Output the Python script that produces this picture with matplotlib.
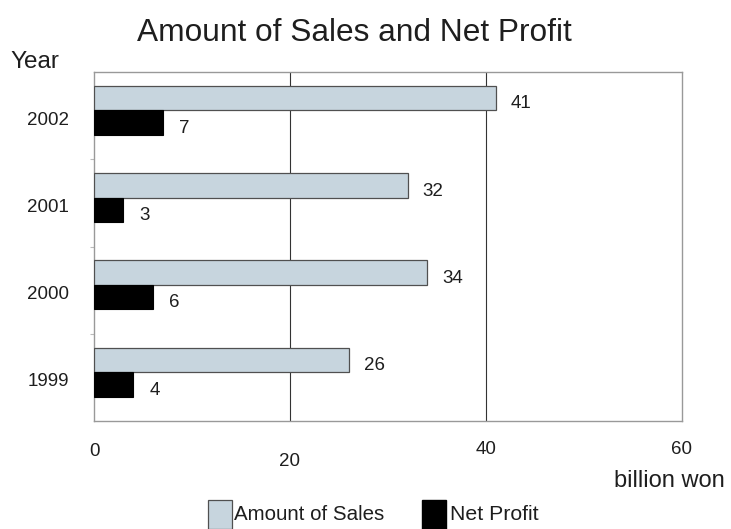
import matplotlib
matplotlib.use("Agg")
import matplotlib.pyplot as plt
from matplotlib.patches import Rectangle
import matplotlib.transforms as mtransforms

years = ["1999", "2000", "2001", "2002"]
sales = [26, 34, 32, 41]
profit = [4, 6, 3, 7]
xticks = [0, 20, 40, 60]

FONT = ["Liberation Sans", "DejaVu Sans"]
plt.rcParams["font.family"] = FONT

SALES_C = "#c7d5de"
TXT = "#1e1e1e"
fig = plt.figure(figsize=(7.31, 5.29), dpi=100)
ax = fig.add_axes([94/731, 1-421/529, (682-94)/731, (421-72)/529])

h = 0.28
shift = 0.06
ypos = list(range(len(years)))
ax.barh([y + shift + h/2 for y in ypos], sales, height=h, color=SALES_C, edgecolor="#505050", linewidth=0.9, zorder=3)
ax.barh([y + shift - h/2 for y in ypos], profit, height=h, color="black", edgecolor="black", linewidth=0.8, zorder=3)

for y, s, p in zip(ypos, sales, profit):
    ax.text(s + 2.6, y + shift + h/2 - 0.065, str(s), ha="center", va="center", fontsize=13.5, color=TXT)
    ax.text(p + 2.2, y + shift - h/2 - 0.065, str(p), ha="center", va="center", fontsize=13.5, color=TXT)

ax.set_xlim(0, 60)
ax.set_ylim(-0.5, 3.5)
for xv in [20, 40]:
    ax.axvline(xv, color="#333333", linewidth=0.8, zorder=1)
for sp in ax.spines.values():
    sp.set_color("#999999")
    sp.set_linewidth(1.0)

ax.set_yticks([y - 0.03 for y in ypos])
ax.set_yticklabels(years, fontsize=13.5, color=TXT)
ax.tick_params(axis="y", length=0, pad=18)
ax.set_yticks([0.5, 1.5, 2.5], minor=True)
ax.tick_params(axis="y", which="minor", length=3, color="#bbbbbb", width=0.8)

ax.set_xticks([])
trans = mtransforms.blended_transform_factory(ax.transData, fig.transFigure)
offsets = [1-451/529, 1-462/529, 1-449/529, 1-449/529]
for xv, yf in zip(xticks, offsets):
    ax.text(xv, yf, str(xv), transform=trans, ha="center", va="center", fontsize=13.5, color=TXT)

fig.text(354/731, 1-33/529, "Amount of Sales and Net Profit", ha="center", va="center", fontsize=22.8, color=TXT)
fig.text(10/731, 1-62/529, "Year", ha="left", va="center", fontsize=17.5, color=TXT)
fig.text(725/731, 1-481/529, "billion won", ha="right", va="center", fontsize=17, color=TXT)

# legend
fig.patches.append(Rectangle((208/731, 0), 24/731, 29/529, transform=fig.transFigure, facecolor=SALES_C, edgecolor="#505050", linewidth=0.9))
fig.text(234/731, 1-514/529, "Amount of Sales", ha="left", va="center", fontsize=14.8, color=TXT)
fig.patches.append(Rectangle((422/731, 0), 24/731, 29/529, transform=fig.transFigure, facecolor="black", edgecolor="black"))
fig.text(450/731, 1-514/529, "Net Profit", ha="left", va="center", fontsize=15.3, color=TXT)

fig.savefig("out.png", dpi=100)
